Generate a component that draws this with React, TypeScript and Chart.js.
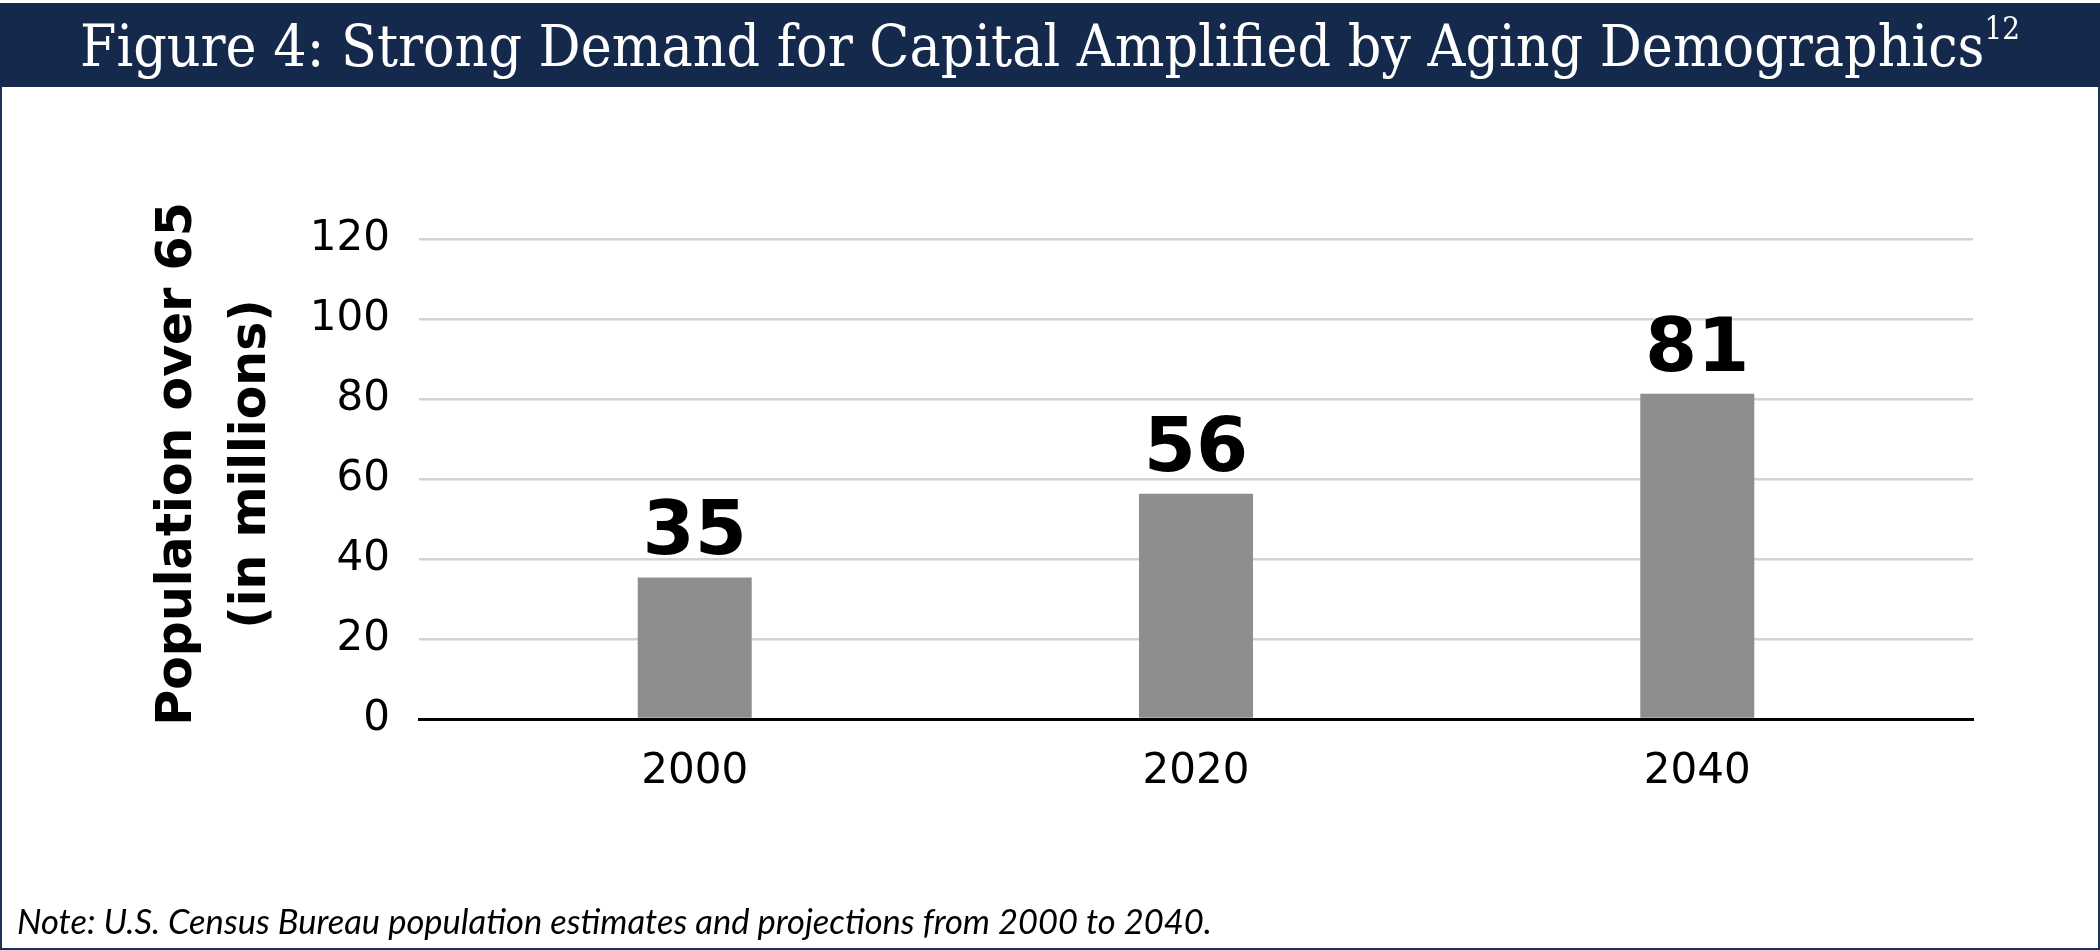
import React, { useEffect, useRef } from 'react';
import { Chart, registerables } from 'chart.js';

Chart.register(...registerables);

const categories = ['2000', '2020', '2040'];
const populationOver65 = [35.4, 56.3, 81.3];
const yTicks = [0, 20, 40, 60, 80, 100, 120];
const yAxisTitle = ['Population over 65', '(in millions)'];
const titleText = 'Figure 4: Strong Demand for Capital Amplified by Aging Demographics';
const titleFootnote = '12';
const noteText = 'Note: U.S. Census Bureau population estimates and projections from 2000 to 2040.';

const SANS = '"DejaVu Sans", "Noto Sans", sans-serif';

export default function App() {
  const ref = useRef<HTMLCanvasElement>(null);

  useEffect(() => {
    const canvas = ref.current;
    if (!canvas) return;

    const valueLabels = {
      id: 'valueLabels',
      afterDatasetsDraw(chart: any) {
        const ctx = chart.ctx;
        const meta = chart.getDatasetMeta(0);
        ctx.save();
        ctx.font = `bold 75px ${SANS}`;
        ctx.fillStyle = '#000';
        ctx.textAlign = 'center';
        ctx.textBaseline = 'alphabetic';
        meta.data.forEach((el: any, i: number) => {
          ctx.fillText(String(Math.round(populationOver65[i])), el.x, el.y - 23);
        });
        ctx.restore();
      },
    };

    const yTitle = {
      id: 'yTitle',
      afterDraw(chart: any) {
        const ctx = chart.ctx;
        const area = chart.chartArea;
        const cy = (area.top + area.bottom) / 2 - 15;
        const baselines = [area.left - 228, area.left - 154];
        ctx.save();
        ctx.font = `bold 49px ${SANS}`;
        ctx.fillStyle = '#000';
        ctx.textAlign = 'center';
        ctx.textBaseline = 'alphabetic';
        yAxisTitle.forEach((t, i) => {
          ctx.save();
          ctx.translate(baselines[i], cy);
          ctx.rotate(-Math.PI / 2);
          ctx.fillText(t, 0, 0);
          ctx.restore();
        });
        ctx.restore();
      },
    };

    const chart = new Chart(canvas, {
      type: 'bar',
      data: {
        datasets: [
          {
            data: categories.map((_, i) => ({ x: i, y: populationOver65[i] })),
            backgroundColor: '#8e8e8e',
            borderWidth: 0,
            categoryPercentage: 1,
            barPercentage: 0.2274,
          },
        ],
      },
      options: {
        responsive: false,
        animation: false,
        layout: { padding: { left: 0, right: 127, top: 239, bottom: 131 } },
        plugins: {
          legend: { display: false },
          tooltip: { enabled: false },
          title: { display: false },
        },
        scales: {
          x: {
            type: 'linear',
            offset: false,
            min: -0.55,
            max: 2.55,
            grid: { display: false, drawTicks: false, offset: false },
            border: { display: true, color: '#000', width: 3 },
            afterBuildTicks: (s: any) => {
              s.ticks = categories.map((_, i) => ({ value: i }));
            },
            afterFit: (s: any) => {
              s.height = 100;
            },
            ticks: {
              padding: 28,
              color: '#000',
              font: { family: SANS, size: 42 },
              maxRotation: 0,
              autoSkip: false,
              callback: (v: any) => categories[v] ?? '',
            },
          },
          y: {
            min: 0,
            max: 120,
            afterBuildTicks: (s: any) => {
              s.ticks = yTicks.map((v) => ({ value: v }));
            },
            afterFit: (s: any) => {
              s.width = 419;
            },
            grid: { color: '#d3d3d3', lineWidth: 2.5, drawTicks: false },
            border: { display: false },
            ticks: {
              padding: 29,
              color: '#000',
              font: { family: SANS, size: 42 },
            },
          },
        },
      },
      plugins: [valueLabels, yTitle],
    } as any);

    return () => chart.destroy();
  }, []);

  return (
    <div style={{ position: 'absolute', left: 0, top: 0, width: 2100, height: 950, background: '#fff', overflow: 'hidden' }}>
      <canvas ref={ref} width={2100} height={950} style={{ position: 'absolute', left: 0, top: 0, width: 2100, height: 950 }} />
      <div style={{ position: 'absolute', left: 0, top: 3, width: 2100, height: 84, background: '#14294b' }} />
      <div
        style={{
          position: 'absolute',
          left: 0,
          top: 0,
          width: 2100,
          height: 87,
          lineHeight: '87px',
          paddingTop: 3,
          textAlign: 'center',
          color: '#fff',
          fontFamily: '"DejaVu Serif", serif',
          fontStretch: 'condensed',
          fontSize: 58.3,
          whiteSpace: 'nowrap',
        }}
      >
        {titleText}
        <span style={{ fontSize: 31, verticalAlign: '27px', lineHeight: 1 }}>{titleFootnote}</span>
      </div>
      <div
        style={{
          position: 'absolute',
          left: 0,
          top: 86,
          width: 2100,
          height: 864,
          border: '2px solid #1c3356',
          borderTop: 'none',
          boxSizing: 'border-box',
        }}
      />
      <div
        style={{
          position: 'absolute',
          left: 17,
          top: 904,
          fontFamily: 'Lato, "Open Sans", sans-serif',
          fontStyle: 'italic',
          fontSize: 34.5,
          lineHeight: '34px',
          color: '#000',
          whiteSpace: 'nowrap',
        }}
      >
        {noteText}
      </div>
    </div>
  );
}
